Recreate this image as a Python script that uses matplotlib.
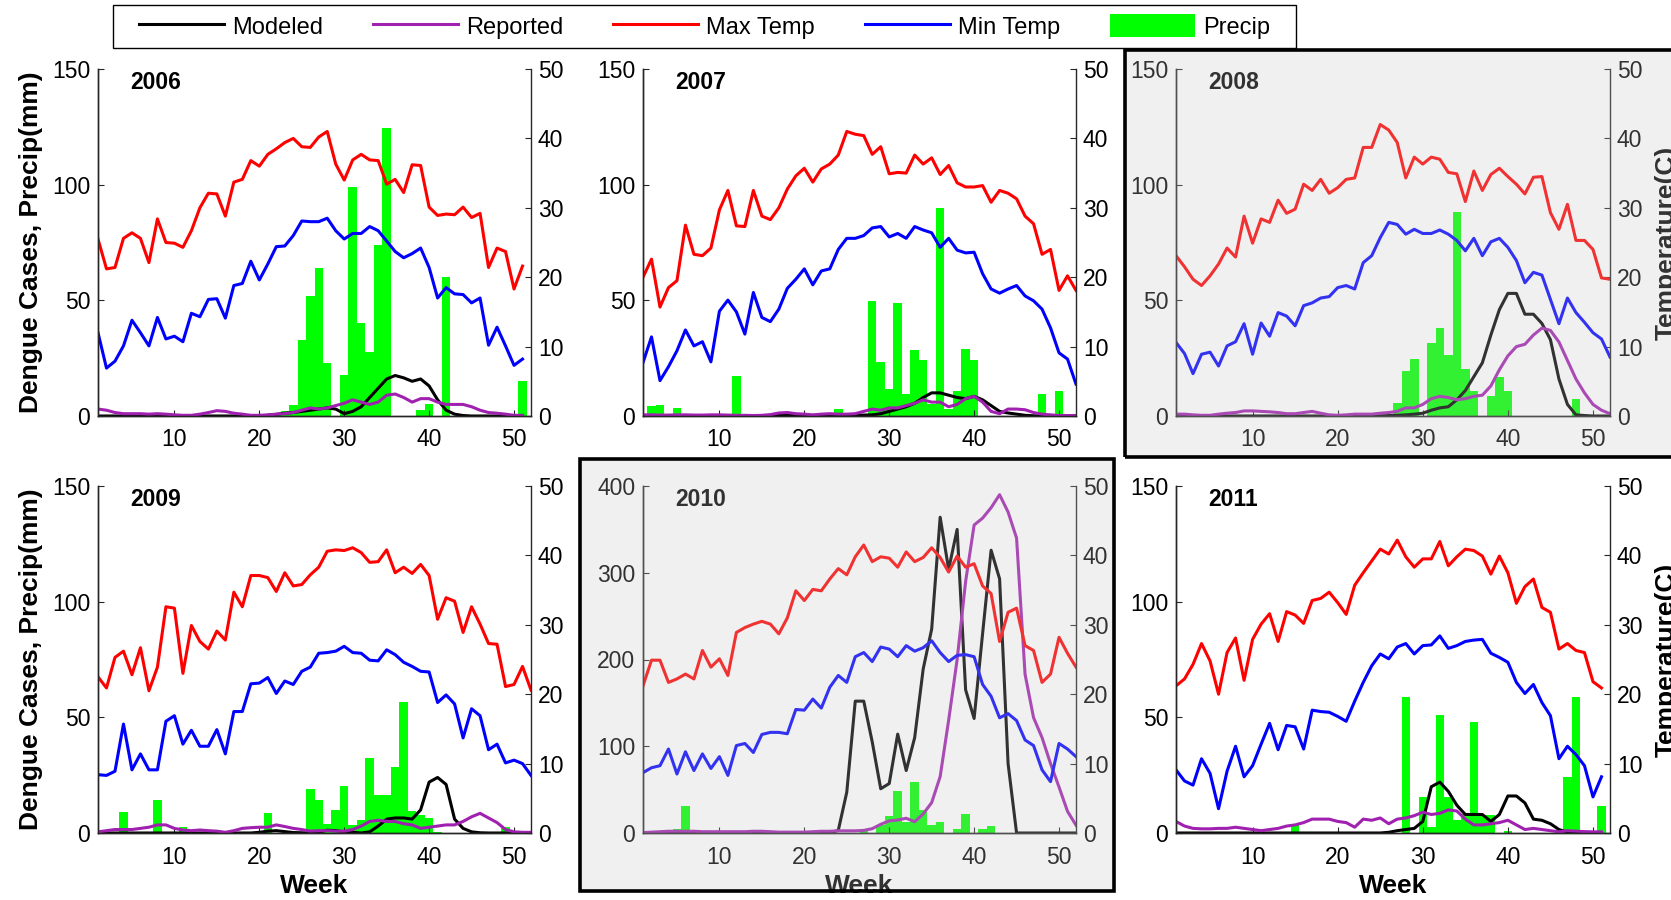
import matplotlib.pyplot as plt
import numpy as np
from matplotlib.lines import Line2D
from matplotlib.patches import Patch, Rectangle

plt.rcParams['font.family'] = ['Liberation Sans', 'DejaVu Sans']

# ---- data (weekly values) ----
weeks51 = np.arange(1, 52)
weeks52 = np.arange(1, 53)

tmax_2006 = [25.5, 21.2, 21.4, 25.6, 26.4, 25.6, 22.1, 28.4, 25.0, 24.9,
             24.3, 26.7, 30.0, 32.1, 32.0, 28.8, 33.7, 34.1, 36.8, 36.0,
             37.7, 38.5, 39.4, 40.0, 38.8, 38.7, 40.2, 41.0, 36.3, 34.0,
             36.9, 37.7, 36.9, 36.8, 33.4, 34.1, 32.2, 36.2, 36.1, 30.1,
             28.9, 29.1, 29.0, 30.1, 28.6, 29.2, 21.4, 24.2, 23.7, 18.3,
             21.6]
tmin_2006 = [12.0, 6.9, 7.9, 10.1, 13.8, 12.0, 10.1, 14.2, 11.1, 11.5,
             10.7, 14.8, 14.3, 16.8, 16.9, 14.1, 18.8, 19.1, 22.3, 19.6,
             21.9, 24.4, 24.5, 26.0, 28.1, 28.0, 28.0, 28.5, 26.7, 25.5,
             26.3, 26.3, 27.3, 26.7, 25.2, 23.7, 22.8, 23.4, 24.2, 21.4,
             17.0, 18.5, 17.6, 17.5, 16.3, 17.0, 10.2, 12.8, 10.1, 7.3,
             8.2]
model_2006 = [0] * 20 + [0.3, 0.7, 1.2, 1.5, 2, 2.5, 3, 3.5, 3, 1,
                         2, 4, 8, 12, 16, 17.5, 16.5, 15, 16, 13,
                         7, 2.5, 0.8, 0.2] + [0] * 7
report_2006 = [3, 2.5, 1.5, 1, 1, 1, 0.8, 1, 0.8, 0.5,
               0.3, 0.3, 0.8, 1.5, 2.3, 2, 1.2, 0.8, 0.3, 0.3,
               0.5, 0.8, 1, 1.5, 2.5, 3.5, 3, 3.5, 4.5, 5.5,
               7, 6, 5, 6, 9, 9.5, 8, 6, 7.5, 7.5,
               6, 5, 5, 5, 4, 2.5, 1.5, 1.2, 0.8, 0.3,
               0.3]
rain_wk_2006 = [22, 23, 24, 25, 26, 27, 28, 30, 31, 32, 33, 34, 35, 39, 40, 42, 51]
rain_mm_2006 = [1.5, 2, 4.6, 32.7, 52, 64, 23, 17.7, 99, 40, 27.7, 74, 124.5, 2.5, 5, 60, 15]

tmax_2007 = [20.0, 22.6, 15.7, 18.5, 19.5, 27.5, 23.3, 23.1, 24.2, 29.7,
             32.5, 27.4, 27.3, 32.5, 28.8, 28.3, 30.0, 32.7, 34.6, 35.7,
             33.7, 35.6, 36.3, 37.6, 41.0, 40.6, 40.4, 37.7, 38.8, 34.9,
             35.1, 35.0, 37.6, 36.3, 37.2, 34.8, 36.1, 33.6, 33.0, 33.0,
             33.2, 30.8, 32.5, 32.1, 31.3, 28.8, 27.7, 23.3, 24.0, 18.1,
             20.2, 18.1]
tmin_2007 = [7.7, 11.4, 5.1, 7.1, 9.4, 12.4, 10.1, 10.7, 7.8, 15.1,
             16.7, 15.0, 11.8, 17.8, 14.2, 13.6, 15.4, 18.4, 19.7, 21.2,
             18.9, 20.9, 21.2, 24.0, 25.6, 25.6, 26.0, 27.1, 27.3, 25.8,
             26.3, 25.6, 27.3, 26.8, 26.4, 24.3, 25.6, 23.9, 23.5, 23.6,
             20.5, 18.3, 17.7, 18.3, 18.8, 17.3, 16.6, 15.4, 12.7, 9.1,
             8.2, 4.6]
model_2007 = [0] * 16 + [0.3, 0.5, 0.4, 0.2, 0.1, 0.1, 0.1, 0.2, 0.2, 0.3,
                         0.4, 0.5, 1, 2, 3, 4, 5.5, 8, 10, 10,
                         9, 8, 7.5, 8.5, 7, 4.5, 2, 1.3, 0.8, 0.3,
                         0.1] + [0] * 5
report_2007 = [0.5, 0.5, 0.4, 0.4, 0.5, 0.5, 0.4, 0.4, 0.5, 0.5,
               0.4, 0.3, 0.3, 0.2, 0.3, 0.6, 1.3, 1.5, 1.0, 0.8,
               0.5, 0.8, 1.0, 0.8, 0.8, 1, 2, 3, 2.5, 3.5,
               3.5, 4.5, 5.5, 7, 6, 6, 4, 5, 7.5, 8.5,
               6, 2, 1, 3, 3, 2.7, 1.5, 0.8, 0.5, 0.2,
               0.2, 0.2]
rain_wk_2007 = [2, 3, 5, 12, 24, 28, 29, 30, 31, 32, 33, 34, 35, 36, 37, 38, 39, 40, 48, 50]
rain_mm_2007 = [4.3, 4.8, 3.3, 17.3, 2.9, 49.8, 23.4, 11.5, 49, 9.4, 28.4, 24.1, 5, 89.9,
                3, 10.8, 29.1, 24.1, 9.4, 10.8]

tmax_2008 = [23.1, 21.5, 19.7, 18.8, 20.2, 21.9, 24.2, 22.9, 28.8, 24.9,
             28.4, 27.9, 31.1, 29.2, 29.8, 33.4, 32.5, 34.1, 32.1, 32.9,
             34.1, 34.3, 38.7, 38.7, 42.0, 41.2, 39.4, 34.3, 37.3, 36.3,
             37.3, 37.0, 35.1, 34.9, 30.9, 35.3, 32.5, 34.8, 35.7, 34.5,
             33.4, 32.0, 34.4, 34.5, 29.3, 26.9, 30.5, 25.3, 25.3, 24.0,
             19.9, 19.7]
tmin_2008 = [10.6, 9.0, 6.1, 8.9, 9.2, 7.2, 10.1, 10.7, 13.3, 8.9,
             13.4, 11.5, 14.9, 14.4, 13.0, 15.9, 16.3, 17.0, 17.2, 18.5,
             18.8, 18.3, 22.1, 23.1, 25.7, 27.9, 27.6, 26.2, 26.9, 26.3,
             26.3, 26.8, 26.2, 25.3, 23.8, 25.6, 23.1, 25.1, 25.6, 24.3,
             22.4, 19.2, 20.7, 20.3, 16.8, 13.3, 17.0, 14.9, 13.5, 12.0,
             11.1, 8.5]
model_2008 = [0] * 24 + [0.1, 0.2, 0.3, 0.5, 0.8, 1.2, 2.5, 3.5, 4, 7,
                         11, 17, 23, 35, 46, 53, 53, 44, 44, 40,
                         33, 16, 5, 0.5, 0.2, 0, 0, 0]
report_2008 = [0.8, 0.8, 0.5, 0.3, 0.3, 0.8, 1.2, 1.5, 2.2, 2.2,
               2, 1.8, 1.5, 1, 1, 1.5, 2, 1.2, 0.5, 0.3,
               0.5, 0.8, 0.8, 0.8, 1.2, 1.5, 2, 3.5, 3.5, 5,
               7.5, 8.5, 8, 7, 7.5, 8.5, 9, 13, 20, 26,
               30, 31, 35, 38, 37, 32, 24, 16, 10, 5,
               2.5, 1]
rain_wk_2008 = [27, 28, 29, 31, 32, 33, 34, 35, 36, 38, 39, 40, 48]
rain_mm_2008 = [5.8, 19.5, 24.5, 31.4, 38.2, 26.3, 88, 20.5, 10.8, 8.7, 16.9, 10.8, 7.2]

tmax_2009 = [22.5, 20.9, 25.3, 26.2, 22.8, 26.7, 20.5, 23.9, 32.6, 32.4,
             23.0, 29.9, 27.6, 26.5, 29.1, 27.8, 34.7, 32.6, 37.1, 37.1,
             36.8, 34.8, 37.5, 35.6, 35.8, 37.2, 38.3, 40.6, 40.8, 40.7,
             41.1, 40.4, 39.0, 39.1, 40.8, 37.5, 38.3, 37.4, 38.7, 37.1,
             30.8, 33.9, 33.4, 28.9, 32.6, 30.1, 27.3, 27.2, 21.1, 21.4,
             24.0, 20.6]
tmin_2009 = [8.4, 8.3, 8.9, 15.7, 9.1, 11.4, 9.1, 9.1, 16.1, 16.9,
             12.8, 14.8, 12.5, 12.5, 14.9, 11.4, 17.5, 17.5, 21.5, 21.6,
             22.4, 20.1, 21.9, 21.4, 23.3, 23.9, 25.9, 26.0, 26.2, 26.9,
             26.0, 25.9, 24.9, 24.8, 26.4, 25.7, 24.6, 24.0, 23.3, 23.2,
             18.8, 19.9, 18.6, 13.7, 17.9, 16.9, 12.0, 12.8, 10.1, 10.5,
             10.0, 8.3]
model_2009 = [0] * 19 + [0.3, 0.8, 1, 0.6, 0.2, 0.1, 0, 0.3, 1.2, 1,
                         0.5, 0.3, 0, 0.5, 3, 6, 6.5, 6.5, 6, 10,
                         22, 24, 21, 6, 2, 0.5, 0.1] + [0] * 6
report_2009 = [0.5, 1, 1.5, 1.5, 1.5, 2, 2.5, 3.5, 3.5, 2,
               1.3, 1.0, 1.3, 1.0, 0.8, 0.3, 1, 2, 2.3, 2.5,
               2.5, 3.5, 2.8, 2, 1.5, 0.8, 1, 1, 0.8, 0.8,
               1.5, 3, 5, 5.5, 5, 5, 4, 3.5, 2, 2.5,
               3, 3.5, 3.5, 5, 7, 8.5, 6.5, 4.5, 1.5, 0.5,
               0.3, 0.3]
rain_wk_2009 = [4, 8, 11, 21, 26, 27, 28, 29, 30, 31, 32, 33, 34, 35, 36, 37, 38, 39, 40, 41, 49]
rain_mm_2009 = [9.1, 14.4, 2.6, 8.6, 19.1, 14.1, 3.7, 9.8, 20.3, 3.3, 5.5, 32.4, 16.3, 16.5,
                28.5, 56.5, 9.5, 7.6, 6.6, 0.4, 2.6]

tmax_2010 = [21.2, 24.9, 24.9, 21.7, 22.2, 22.9, 22.2, 26.3, 23.9, 25.1,
             22.7, 28.9, 29.6, 30.1, 30.5, 30.1, 28.7, 31.0, 34.9, 33.5,
             35.1, 34.9, 36.6, 38.1, 37.2, 39.8, 41.5, 39.1, 39.8, 39.6,
             38.3, 40.5, 39.1, 39.7, 41.1, 39.7, 37.6, 39.9, 38.3, 38.8,
             35.6, 34.5, 27.6, 31.8, 32.4, 27.0, 26.3, 21.7, 22.9, 28.2,
             25.9, 23.9]
tmin_2010 = [8.7, 9.4, 9.7, 12.1, 8.5, 11.7, 9.0, 11.4, 9.3, 11.0,
             8.3, 12.6, 12.9, 11.6, 14.2, 14.5, 14.5, 14.3, 17.8, 17.7,
             19.3, 18.0, 21.0, 22.7, 21.7, 25.4, 26.0, 24.7, 26.8, 26.5,
             25.4, 27.0, 26.2, 26.7, 27.7, 26.0, 24.7, 25.6, 25.7, 25.4,
             21.4, 19.7, 16.6, 17.2, 16.2, 13.4, 12.6, 9.1, 7.4, 12.9,
             12.1, 11.0]
model_2010 = [0] * 23 + [3, 47, 152, 152, 105, 51, 57, 114, 72, 110,
                         189, 235, 364, 304, 350, 165, 132, 230, 326, 293,
                         80] + [0] * 8
report_2010 = [0.5, 1, 1.5, 2, 2, 2, 2, 1.5, 1.5, 1.5,
               1.5, 1.5, 1.5, 2, 2, 1.5, 1, 1, 1, 1,
               1.5, 2, 2, 2.5, 2.5, 2.5, 3, 5, 10, 14,
               15, 17, 13, 22, 35, 65, 130, 200, 290, 355,
               363, 375, 390, 370, 340, 183, 133, 110, 80, 53,
               25, 9]
rain_wk_2010 = [5, 6, 27, 29, 30, 31, 32, 33, 34, 35, 36, 38, 39, 41, 42]
rain_mm_2010 = [5, 31, 2, 9, 20, 48, 13, 59, 26, 9, 13, 5, 22, 5, 8]

tmax_2011 = [21.2, 22.2, 24.3, 27.3, 24.8, 20.0, 26.0, 28.1, 22.0, 27.9,
             30.1, 31.6, 27.6, 31.9, 31.4, 30.2, 33.5, 33.8, 34.7, 33.2,
             31.5, 35.7, 37.5, 39.2, 40.9, 40.2, 42.2, 39.8, 38.3, 39.5,
             39.5, 42.0, 38.5, 39.8, 40.9, 40.7, 39.9, 37.3, 39.9, 37.5,
             33.1, 35.5, 36.6, 32.5, 31.8, 26.5, 27.3, 26.3, 26.0, 21.8,
             20.9]
tmin_2011 = [9.1, 7.5, 6.9, 10.7, 8.6, 3.5, 8.9, 12.5, 8.1, 9.7,
             12.8, 15.8, 12.0, 15.5, 15.3, 12.1, 17.7, 17.5, 17.4, 16.8,
             16.1, 19.0, 21.7, 24.1, 25.8, 25.1, 26.8, 27.3, 25.8, 27.0,
             27.1, 28.4, 26.6, 27.0, 27.6, 27.8, 27.9, 25.9, 25.3, 24.6,
             21.7, 20.1, 21.4, 18.8, 16.9, 10.7, 12.5, 11.3, 9.7, 5.2,
             8.1]
model_2011 = [0] * 25 + [0.3, 1, 1.5, 2, 5, 20, 22, 18, 12, 8,
                         8, 8, 5, 8, 16, 16, 13, 6, 5.5, 4,
                         1.5, 0.3] + [0] * 4
report_2011 = [5, 3, 2, 1.8, 1.8, 2, 2, 2.5, 2, 1.5,
               1, 1.5, 2, 3, 3.5, 4.5, 6, 6, 6, 5,
               4.5, 2.5, 6, 5.5, 6.5, 4, 6, 6.5, 7.5, 9,
               8, 8.5, 10, 9.5, 6, 3.5, 3.5, 4, 4.5, 5.5,
               3.5, 1.5, 2, 1.5, 1, 0.5, 1, 0.8, 0.6, 0.5,
               0.5]
rain_wk_2011 = [15, 28, 30, 31, 32, 33, 34, 35, 36, 37, 38, 40, 47, 48, 51]
rain_mm_2011 = [3.3, 59, 15.5, 2.6, 50.8, 15.5, 5.8, 8, 47.9, 7.6, 7.6, 1, 24.2, 59, 11.5]

PURPLE = '#a020b0'
GREEN = (0, 1, 0)
AXCOL = '#262626'
W, H = 1671, 900
TICK_FS = 16.5

fig = plt.figure(figsize=(W / 100, H / 100), dpi=100)


def px_axes(left, top, right, bottom):
    return [left / W, 1 - bottom / H, (right - left) / W, (bottom - top) / H]


def panel(box, year, wk, tmax, tmin, model, report, rain_wk, rain_mm,
          ymax=150, ylab=False, tlab=False, xlab=False):
    ax = fig.add_axes(px_axes(*box))
    ax.bar(rain_wk, rain_mm, width=1.0, color=GREEN, linewidth=0, zorder=1)
    ax.plot(wk, model, color='black', lw=2.2, zorder=2)
    ax.plot(wk, report, color=PURPLE, lw=2.2, zorder=3)
    ax.set_xlim(1, 52)
    ax.set_ylim(0, ymax)
    ax.set_xticks([10, 20, 30, 40, 50])
    ax.set_yticks(np.arange(0, ymax + 1, 50 if ymax == 150 else 100))
    ax2 = ax.twinx()
    ax2.plot(wk, tmax, color='red', lw=2.2)
    ax2.plot(wk, tmin, color='blue', lw=2.2)
    ax2.set_ylim(0, 50)
    ax2.set_yticks(range(0, 51, 10))
    for a in (ax, ax2):
        a.spines['top'].set_visible(False)
        for s in a.spines.values():
            s.set_color(AXCOL)
            s.set_linewidth(1.0)
        a.patch.set_visible(False)
    ax.spines['right'].set_visible(False)
    ax.tick_params(axis='x', direction='in', length=4, color=AXCOL, labelsize=TICK_FS, pad=9)
    ax.tick_params(axis='y', direction='in', length=4, color=AXCOL, labelsize=TICK_FS, pad=5.5)
    ax2.tick_params(axis='y', direction='in', length=4, color=AXCOL, labelsize=TICK_FS, pad=5)
    ax.text(0.075, 0.96, year, transform=ax.transAxes, fontsize=16.5,
            fontweight='bold', ha='left', va='center')
    if ylab:
        ax.set_ylabel('Dengue Cases, Precip(mm)', fontsize=19, fontweight='bold')
        ax.yaxis.set_label_coords(-0.127, 0.5)
    if tlab:
        ax2.set_ylabel('Temperature(C)', fontsize=19, fontweight='bold')
        ax2.yaxis.set_label_coords(1.104, 0.5)
    if xlab:
        ax.set_xlabel('Week', fontsize=19, fontweight='bold')
        ax.xaxis.set_label_coords(0.5, -0.117)
    return ax


panel((98, 69, 531, 416), '2006', weeks51, tmax_2006, tmin_2006, model_2006, report_2006,
      rain_wk_2006, rain_mm_2006, ylab=True)
panel((643, 69, 1076, 416), '2007', weeks52, tmax_2007, tmin_2007, model_2007, report_2007,
      rain_wk_2007, rain_mm_2007)
panel((1176, 69, 1610, 416), '2008', weeks52, tmax_2008, tmin_2008, model_2008, report_2008,
      rain_wk_2008, rain_mm_2008, tlab=True)
panel((98, 486, 531, 833), '2009', weeks52, tmax_2009, tmin_2009, model_2009, report_2009,
      rain_wk_2009, rain_mm_2009, ylab=True, xlab=True)
panel((643, 486, 1076, 833), '2010', weeks52, tmax_2010, tmin_2010, model_2010, report_2010,
      rain_wk_2010, rain_mm_2010, ymax=400, xlab=True)
panel((1176, 486, 1610, 833), '2011', weeks51, tmax_2011, tmin_2011, model_2011, report_2011,
      rain_wk_2011, rain_mm_2011, tlab=True, xlab=True)

# highlighted panels: light grey wash with a black frame
for (x0, y0, x1, y1) in [(1125, 50, 1685, 457), (580, 459, 1114, 891)]:
    r = [x0 / W, 1 - y1 / H, (x1 - x0) / W, (y1 - y0) / H]
    fig.patches.append(Rectangle((r[0], r[1]), r[2], r[3], transform=fig.transFigure,
                                 facecolor=(0.773, 0.773, 0.773, 0.26), edgecolor='none', zorder=6))
    fig.patches.append(Rectangle((r[0], r[1]), r[2], r[3], transform=fig.transFigure,
                                 facecolor='none', edgecolor='black', lw=2.6, zorder=7))

# legend frame and entries
lx0, ly0, lx1, ly1 = 113, 5, 1296, 48
fig.patches.append(Rectangle((lx0 / W, 1 - ly1 / H), (lx1 - lx0) / W, (ly1 - ly0) / H,
                             transform=fig.transFigure, facecolor='white',
                             edgecolor='black', lw=1.0, zorder=6))
handles = [Line2D([], [], color='black', lw=2.2),
           Line2D([], [], color=PURPLE, lw=2.2),
           Line2D([], [], color='red', lw=2.2),
           Line2D([], [], color='blue', lw=2.2),
           Patch(facecolor=GREEN, edgecolor='none')]
labels = ['Modeled', 'Reported', 'Max Temp', 'Min Temp', 'Precip']
leg = fig.legend(handles, labels, loc='center',
                 bbox_to_anchor=((lx0 + lx1) / 2 / W, 1 - (ly0 + ly1) / 2 / H),
                 ncol=5, frameon=False, fontsize=17, handlelength=3.6,
                 handleheight=1.1, handletextpad=0.35, columnspacing=2.1)
leg.set_zorder(8)

fig.savefig('out.png', dpi=100)
